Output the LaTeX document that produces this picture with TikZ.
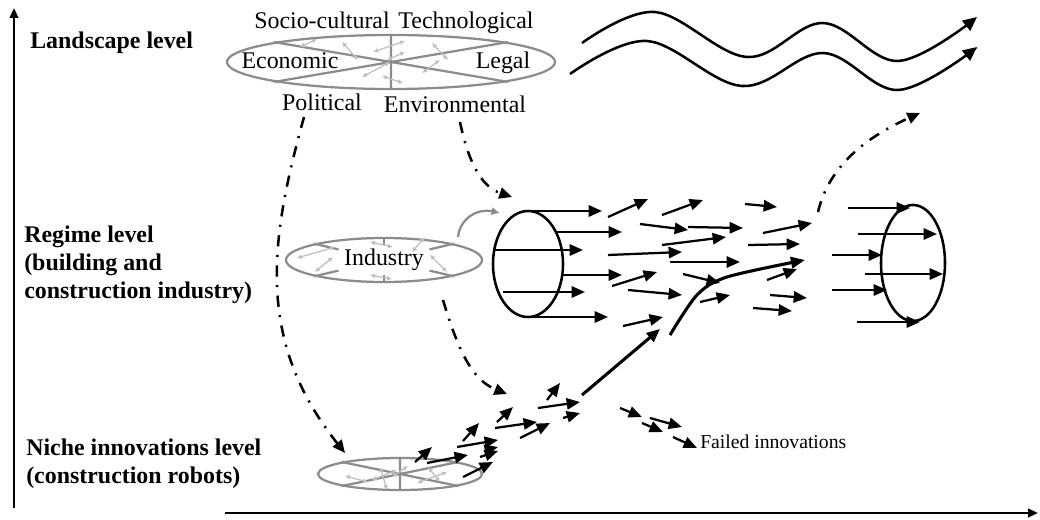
\documentclass[tikz,border=0pt]{standalone}
\usepackage{fontspec}
\setmainfont{Liberation Serif}
\usetikzlibrary{arrows.meta,shapes.geometric,calc}

\begin{document}
\begin{tikzpicture}[x=0.025cm,y=-0.025cm,
  lvl/.style={font=\fontsize{17}{19.6}\selectfont\bfseries, align=left, anchor=base west, inner sep=0pt},
  lbl/.style={font=\fontsize{17}{20}\selectfont, anchor=base, inner sep=0pt},
  oval/.style={ellipse, draw=black!45, line width=1.6pt, inner sep=0pt},
  pipe/.style={ellipse, draw, line width=1.8pt, inner sep=0pt},
  flow/.style={-{Triangle[length=9.5pt,width=8pt]}, line width=1.6pt},
  push/.style={-{Triangle[length=9pt,width=8pt]}, line width=1.8pt, dash pattern=on 8pt off 6pt on 1.5pt off 6pt},
  tie/.style={{Latex[length=3.5pt,width=3.5pt]}-{Latex[length=3.5pt,width=3.5pt]}, draw=black!25, line width=0.9pt},
  wave/.style={-{Triangle[length=10pt,width=9pt]}, line width=1.8pt}]
\useasboundingbox (0,0) rectangle (1040,520);

% axes
\draw[-{Triangle[length=7pt,width=6pt]}, line width=1.6pt] (14,508) -- (14,8);
\draw[-{Triangle[length=7pt,width=6pt]}, line width=1.6pt] (225,513) -- (1038,513);

% levels
\node[lvl] (landlvl) at (30,48) {Landscape level};
\node[lvl] (reglvl) at (24,298) {Regime level\\(building and\\construction industry)};
\node[lvl] (nichelvl) at (26,483) {Niche innovations level\\(construction robots)};

% landscape
\node[oval, minimum width=8.2cm, minimum height=1.35cm] (land) at (391,62) {};
\draw[black!45, line width=1.6pt] (land.north) -- (land.south)
  (land.north west) -- (land.south east) (land.south west) -- (land.north east);
\foreach \sx/\sy/\ex/\ey in {300/47/317/39, 342/42/358/60, 373/52/405/41, 387/60/405/52,
  432/43/448/60, 362/77/390/62, 382/76/403/83, 422/73/440/60}
  \draw[tie] (\sx,\sy) -- (\ex,\ey);
\node[lbl] (soc) at (322,28) {Socio-cultural};
\node[lbl] (tech) at (466,28) {Technological};
\node[lbl] (eco) at (290,68) {Economic};
\node[lbl] (legal) at (503,68) {Legal};
\node[lbl] (pol) at (322,110) {Political};
\node[lbl] (env) at (455,112) {Environmental};

\draw[wave] plot[smooth, tension=0.6] coordinates {(582,43) (655,12) (747,57) (823,23) (898,61) (977,17)};
\draw[wave] plot[smooth, tension=0.6] coordinates {(570,74) (647,41) (742,86) (823,53) (898,90) (977,47)};

% regime
\node[oval, font=\fontsize{17}{20}\selectfont, minimum width=4.9cm, minimum height=1.1cm] (ind) at (384,260) {Industry};
\foreach \c in {north west, south west, north east, south east}
  \draw[black!45, line width=1.6pt] (ind.\c) -- ($(ind.\c)!0.35!(ind.center)$);
\draw[black!45, line width=1.6pt] (ind.north) -- ++(0,8) (ind.south) -- ++(0,-8);
\foreach \sx/\sy/\ex/\ey in {297/258/335/247, 315/272/333/257, 370/242/393/247,
  370/275/392/279, 412/252/425/237, 430/255/447/272}
  \draw[tie] (\sx,\sy) -- (\ex,\ey);
\draw[-{Latex[length=6pt,width=6pt]}, black!45, line width=1.6pt] (458,237) .. controls (460,218) and (478,208) .. (500,213);

\node[pipe, minimum width=1.75cm, minimum height=2.65cm] (cylL) at (528,264) {};
\node[pipe, minimum width=1.6cm, minimum height=2.9cm] (cylR) at (913,263) {};
\foreach \sx/\y/\ex in {528/211/602, 557/232/622, 493/250/583, 562/275/622, 503/292/585, 533/317/608,
  848/208/910, 858/234/937, 832/255/882, 865/274/943, 832/290/887, 857/322/920}
  \draw[flow] (\sx,\y) -- (\ex,\y);
\foreach \sx/\sy/\ex/\ey in {608/217/648/199, 662/215/703/200, 745/204/777/207, 640/224/688/230,
  688/227/743/228, 763/233/812/223, 662/245/726/237, 608/255/682/252, 670/262/740/262,
  748/245/800/244, 612/286/657/272, 628/290/682/295, 683/274/720/283, 700/302/730/295,
  767/280/797/269, 770/295/807/298, 753/308/792/311, 623/326/663/317}
  \draw[flow] (\sx,\sy) -- (\ex,\ey);

% niche
\node[oval, minimum width=4.1cm, minimum height=0.8cm] (niche) at (400,474) {};
\draw[black!45, line width=1.6pt] (niche.north) -- (niche.south)
  (niche.north west) -- (niche.south east) (niche.south west) -- (niche.north east);
\foreach \sx/\sy/\ex/\ey in {345/476/368/482, 380/467/387/490, 392/477/408/466,
  417/483/447/472, 428/467/440/482, 372/480/397/470}
  \draw[tie] (\sx,\sy) -- (\ex,\ey);
\foreach \sx/\sy/\ex/\ey in {415/462/432/447, 427/463/468/455, 463/441/479/423, 457/447/498/440,
  480/457/498/451, 486/450/498/447, 463/477/493/462, 497/422/513/407, 495/428/537/422,
  520/438/550/423, 547/400/560/383, 538/408/580/402, 563/418/580/413}
  \draw[flow] (\sx,\sy) -- (\ex,\ey);
\draw[flow, line width=2.2pt] (582,395) -- (660,329);
\draw[-{Triangle[length=10pt,width=8pt]}, line width=2.2pt] plot[smooth] coordinates {(670,335) (697,295) (727,277) (805,260)};

% failed
\foreach \sx/\sy/\ex/\ey in {620/408/642/417, 650/418/682/427, 642/423/663/432, 673/437/697/448}
  \draw[flow] (\sx,\sy) -- (\ex,\ey);
\node[font=\fontsize{14}{16}\selectfont, anchor=base west, inner sep=0pt] (fail) at (700,448) {Failed innovations};

% pressure
\draw[push] (304,117) .. controls (270,240) and (255,340) .. (345,453);
\draw[push] (460,122) .. controls (470,170) and (485,188) .. (512,197);
\draw[push] (443,300) .. controls (458,350) and (472,380) .. (507,394);
\draw[push] (818,212) .. controls (828,170) and (860,140) .. (920,113);
\end{tikzpicture}
\end{document}
